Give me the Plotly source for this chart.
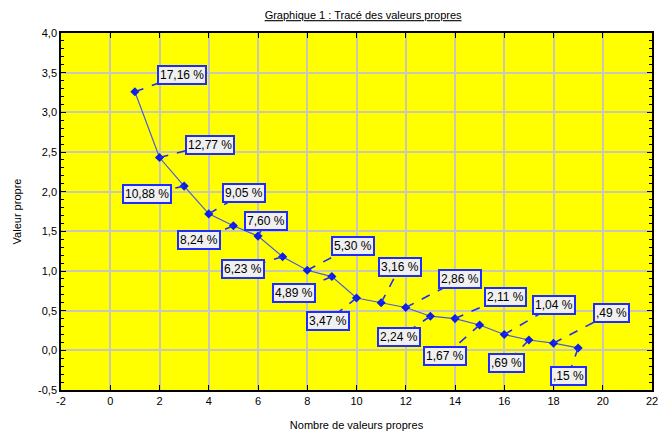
import plotly.graph_objects as go

# Data
components = list(range(1, 20))
eigenvalues = [3.26, 2.43, 2.07, 1.72, 1.57, 1.44, 1.18, 1.01, 0.93, 0.66,
               0.60, 0.54, 0.43, 0.40, 0.32, 0.20, 0.13, 0.09, 0.03]
pct_labels = ["17,16 %", "12,77 %", "10,88 %", "9,05 %", "8,24 %", "7,60 %",
              "6,23 %", "5,30 %", "4,89 %", "3,47 %", "3,16 %", "2,86 %",
              "2,24 %", "2,11 %", "1,67 %", "1,04 %", ",69 %", ",49 %", ",15 %"]
x_ticks = [-2, 0, 2, 4, 6, 8, 10, 12, 14, 16, 18, 20, 22]
x_tick_text = ["-2", "0", "2", "4", "6", "8", "10", "12", "14", "16", "18", "20", "22"]
y_ticks = [-0.5, 0.0, 0.5, 1.0, 1.5, 2.0, 2.5, 3.0, 3.5, 4.0]
y_tick_text = ["-0,5", "0,0", "0,5", "1,0", "1,5", "2,0", "2,5", "3,0", "3,5", "4,0"]

# label offsets from each point, in pixels (dx right, dy down)
offsets = [(47, -17), (50, -13), (-37, 8), (35, -21), (-34, 14), (8, -15),
           (-40, 12), (46, -24), (-38, 16), (-29, 23), (19, -36), (54, -28),
           (-31, 21), (50, -22), (-35, 31), (50, -29), (-22, 23), (58, -30),
           (-10, 28)]

BLUE = "#1f2cff"
FONT = "Arial, Liberation Sans, sans-serif"

fig = go.Figure()
fig.add_trace(go.Scatter(
    x=components, y=eigenvalues, mode="lines+markers",
    line=dict(color="#4a5ae6", width=1.2),
    marker=dict(symbol="diamond", size=7, color="#0a1ee6"),
    showlegend=False, cliponaxis=False))

shapes = []
annotations = []
for xv, yv, txt, (dx, dy) in zip(components, eigenvalues, pct_labels, offsets):
    shapes.append(dict(type="line", xref="x", yref="y",
                       xsizemode="pixel", ysizemode="pixel",
                       xanchor=xv, yanchor=yv, x0=0, y0=0, x1=dx, y1=-dy,
                       line=dict(color=BLUE, width=1.6, dash="dash"),
                       layer="above"))
    annotations.append(dict(x=xv, y=yv, xref="x", yref="y", text=txt,
                            showarrow=True, arrowcolor="rgba(0,0,0,0)",
                            ax=dx, ay=dy, arrowwidth=0.1,
                            bgcolor="#f0f0f0", bordercolor=BLUE, borderwidth=2,
                            borderpad=1,
                            font=dict(family=FONT, size=12, color="black")))

fig.update_layout(
    width=665, height=437,
    margin=dict(l=61, r=7, t=33, b=47),
    paper_bgcolor="white", plot_bgcolor="#ffff00",
    title=dict(text="<u>Graphique 1 : Tracé des valeurs propres</u>",
               x=0.546, xanchor="center", y=0.965, yanchor="middle",
               font=dict(family=FONT, size=11, color="black")),
    font=dict(family=FONT, size=11, color="black"),
    shapes=shapes, annotations=annotations,
    xaxis=dict(range=[-2, 22], tickvals=x_ticks, ticktext=x_tick_text,
               showgrid=True, gridcolor="#c8c8b4", gridwidth=1.5, zeroline=False,
               showline=True, linecolor="black", linewidth=1.5, mirror="ticks",
               ticks="inside", ticklen=5, tickcolor="black",
               title=dict(text="Nombre de valeurs propres", standoff=15,
                          font=dict(size=11))),
    yaxis=dict(range=[-0.5, 4.0], tickvals=y_ticks, ticktext=y_tick_text,
               showgrid=True, gridcolor="#c8c8b4", gridwidth=1.5, zeroline=False,
               showline=True, linecolor="black", linewidth=1.5, mirror="ticks",
               ticks="inside", ticklen=5, tickcolor="black",
               minor=dict(dtick=0.1, tick0=0, ticks="inside", ticklen=3,
                          tickcolor="black", showgrid=False),
               title=dict(text="Valeur propre", standoff=14,
                          font=dict(size=11))),
)

fig.write_html("out.html", config={"displayModeBar": False},
               post_script="document.body.style.margin='0px';document.body.style.overflow='hidden';")
